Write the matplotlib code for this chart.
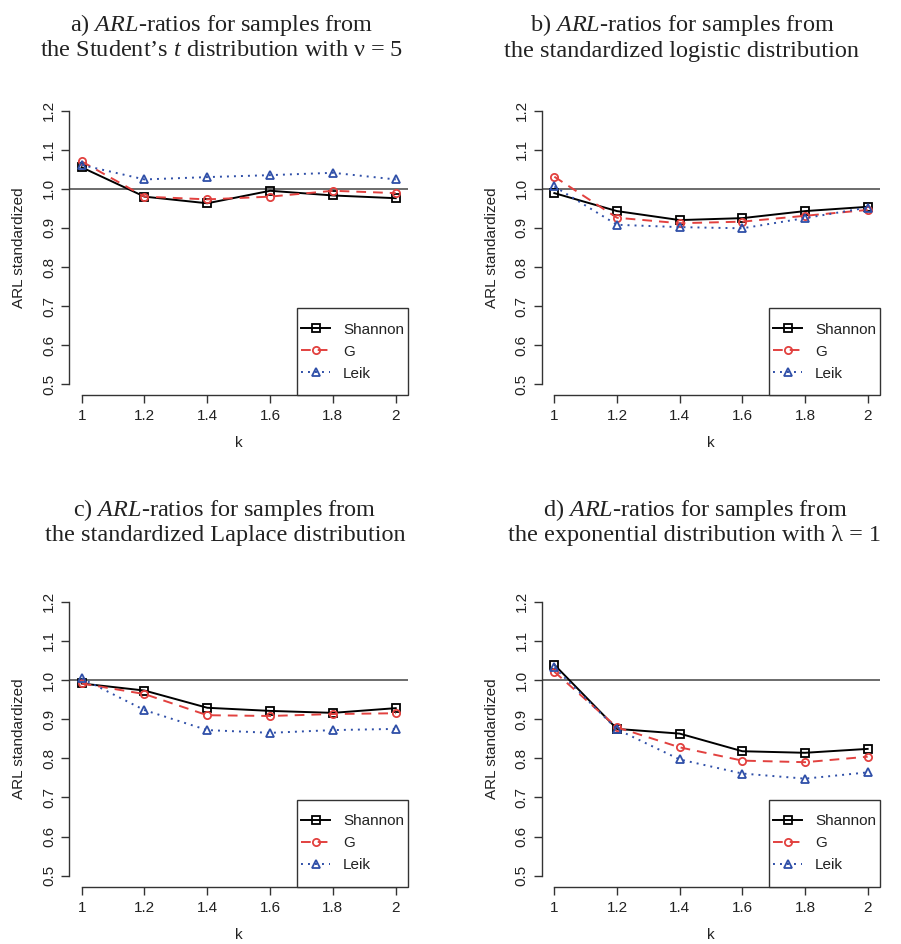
import matplotlib
matplotlib.use("Agg")
import matplotlib.pyplot as plt
from matplotlib.patches import Rectangle

# ---------------- data ----------------
k_values = [1.0, 1.2, 1.4, 1.6, 1.8, 2.0]
x_ticks = [1.0, 1.2, 1.4, 1.6, 1.8, 2.0]
x_ticklabels = ["1", "1.2", "1.4", "1.6", "1.8", "2"]
y_ticks = [0.5, 0.6, 0.7, 0.8, 0.9, 1.0, 1.1, 1.2]
y_ticklabels = ["0.5", "0.6", "0.7", "0.8", "0.9", "1.0", "1.1", "1.2"]
series_names = ["Shannon", "G", "Leik"]

# a) Student's t, nu = 5
shannon_a = [1.055, 0.980, 0.963, 0.995, 0.983, 0.976]
g_a       = [1.070, 0.980, 0.973, 0.980, 0.995, 0.989]
leik_a    = [1.061, 1.024, 1.030, 1.035, 1.041, 1.024]
# b) standardized logistic
shannon_b = [0.989, 0.943, 0.920, 0.925, 0.943, 0.954]
g_b       = [1.031, 0.926, 0.912, 0.916, 0.931, 0.946]
leik_b    = [1.006, 0.908, 0.902, 0.899, 0.925, 0.952]
# c) standardized Laplace
shannon_c = [0.991, 0.973, 0.929, 0.921, 0.916, 0.928]
g_c       = [0.991, 0.964, 0.910, 0.908, 0.913, 0.915]
leik_c    = [1.004, 0.923, 0.872, 0.865, 0.872, 0.875]
# d) exponential, lambda = 1
shannon_d = [1.039, 0.875, 0.863, 0.818, 0.814, 0.824]
g_d       = [1.021, 0.879, 0.828, 0.794, 0.790, 0.804]
leik_d    = [1.032, 0.874, 0.797, 0.761, 0.748, 0.764]

titles_line1 = [r"a) $\mathit{ARL}$-ratios for samples from",
                r"b) $\mathit{ARL}$-ratios for samples from",
                r"c) $\mathit{ARL}$-ratios for samples from",
                r"d) $\mathit{ARL}$-ratios for samples from"]
titles_line2 = [r"the Student’s $\mathit{t}$ distribution with ν = 5",
                "the standardized logistic distribution",
                "the standardized Laplace distribution",
                "the exponential distribution with λ = 1"]

panels = [
    (shannon_a, g_a, leik_a),
    (shannon_b, g_b, leik_b),
    (shannon_c, g_c, leik_c),
    (shannon_d, g_d, leik_d),
]

# ---------------- style ----------------
plt.rcParams["font.family"] = ["Liberation Sans", "DejaVu Sans"]
plt.rcParams["mathtext.fontset"] = "custom"
plt.rcParams["mathtext.rm"] = "Liberation Serif"
plt.rcParams["mathtext.it"] = "Liberation Serif:italic"

W, H = 901, 944
fig = plt.figure(figsize=(W / 100, H / 100), dpi=100)

AX_COL = "#333333"
RED = "#e2413f"
BLUE = "#2f4fa8"

def pos(l, r, t, b):
    return [l / W, 1 - b / H, (r - l) / W, (b - t) / H]

boxes = [pos(69.1, 408.3, 99.7, 395.2),
         pos(541.8, 880.2, 99.7, 395.2),
         pos(69.1, 408.3, 590.7, 886.7),
         pos(541.8, 880.2, 590.7, 886.7)]

title_x = [222, 682, 225, 695]
title_y1 = [25, 25, 510, 510]
title_y2 = [51, 51, 535, 535]

styles = [
    dict(color="black", ls="-", marker="s"),
    dict(color=RED, ls=(0, (5.0, 3.6)), marker="o"),
    dict(color=BLUE, ls=(0, (1.0, 2.6)), marker="^"),
]

for i, (box, data) in enumerate(zip(boxes, panels)):
    ax = fig.add_axes(box)
    ax.set_xlim(0.96, 2.04)
    ax.set_ylim(0.472, 1.228)
    ax.axhline(1.0, color="#6b6b6b", lw=1.4, zorder=1)
    for name, vals, st in zip(series_names, data, styles):
        ax.plot(k_values, vals, color=st["color"], ls=st["ls"], lw=1.4,
                marker=st["marker"], markersize=5.2, markerfacecolor="none",
                markeredgecolor=st["color"], markeredgewidth=1.3,
                label=name, zorder=3)
    for s in ["top", "right"]:
        ax.spines[s].set_visible(False)
    ax.spines["left"].set_bounds(0.5, 1.2)
    ax.spines["bottom"].set_bounds(1.0, 2.0)
    for s in ["left", "bottom"]:
        ax.spines[s].set_color(AX_COL)
        ax.spines[s].set_linewidth(1.0)
    ax.set_xticks(x_ticks)
    ax.set_xticklabels(x_ticklabels)
    ax.set_yticks(y_ticks)
    ax.set_yticklabels(y_ticklabels, rotation=90, va="center")
    ax.tick_params(axis="both", direction="out", length=5.5, width=1.0,
                   color=AX_COL, labelsize=11, labelcolor="#222222")
    ax.tick_params(axis="x", pad=4.5)
    ax.tick_params(axis="y", pad=4)
    ax.set_ylabel("ARL standardized", fontsize=11, color="#222222")
    ax.yaxis.set_label_coords(-50 / 339.2, 0.5)
    ax.set_xlabel("k", fontsize=11, color="#222222")
    ax.xaxis.set_label_coords(0.5, -48 / 295.5)
    ax.xaxis.label.set_va("center")
    ax.yaxis.label.set_va("center")

    # legend box (bottom-right inset)
    bx0 = (296.7 - 69.1) / 339.2
    bh = (395.2 - 308.3) / 295.5
    ax.add_patch(Rectangle((bx0, 0), 1 - bx0, bh, transform=ax.transAxes,
                           fill=True, facecolor="white", edgecolor=AX_COL,
                           lw=1.0, clip_on=False, zorder=4))
    leg = ax.legend(loc="center", bbox_to_anchor=(bx0, 0, 1 - bx0, bh),
                    frameon=False, fontsize=11, handlelength=1.9,
                    handletextpad=0.85, labelspacing=0.52, borderpad=0,
                    borderaxespad=0)
    leg.set_zorder(5)
    for t in leg.get_texts():
        t.set_color("#222222")

    fig.text(title_x[i] / W, 1 - title_y1[i] / H, titles_line1[i],
             ha="center", va="center", fontsize=17.5,
             family="Liberation Serif", color="#222222")
    fig.text(title_x[i] / W, 1 - title_y2[i] / H, titles_line2[i],
             ha="center", va="center", fontsize=17.5,
             family="Liberation Serif", color="#222222")

fig.savefig("out.png", dpi=100)
